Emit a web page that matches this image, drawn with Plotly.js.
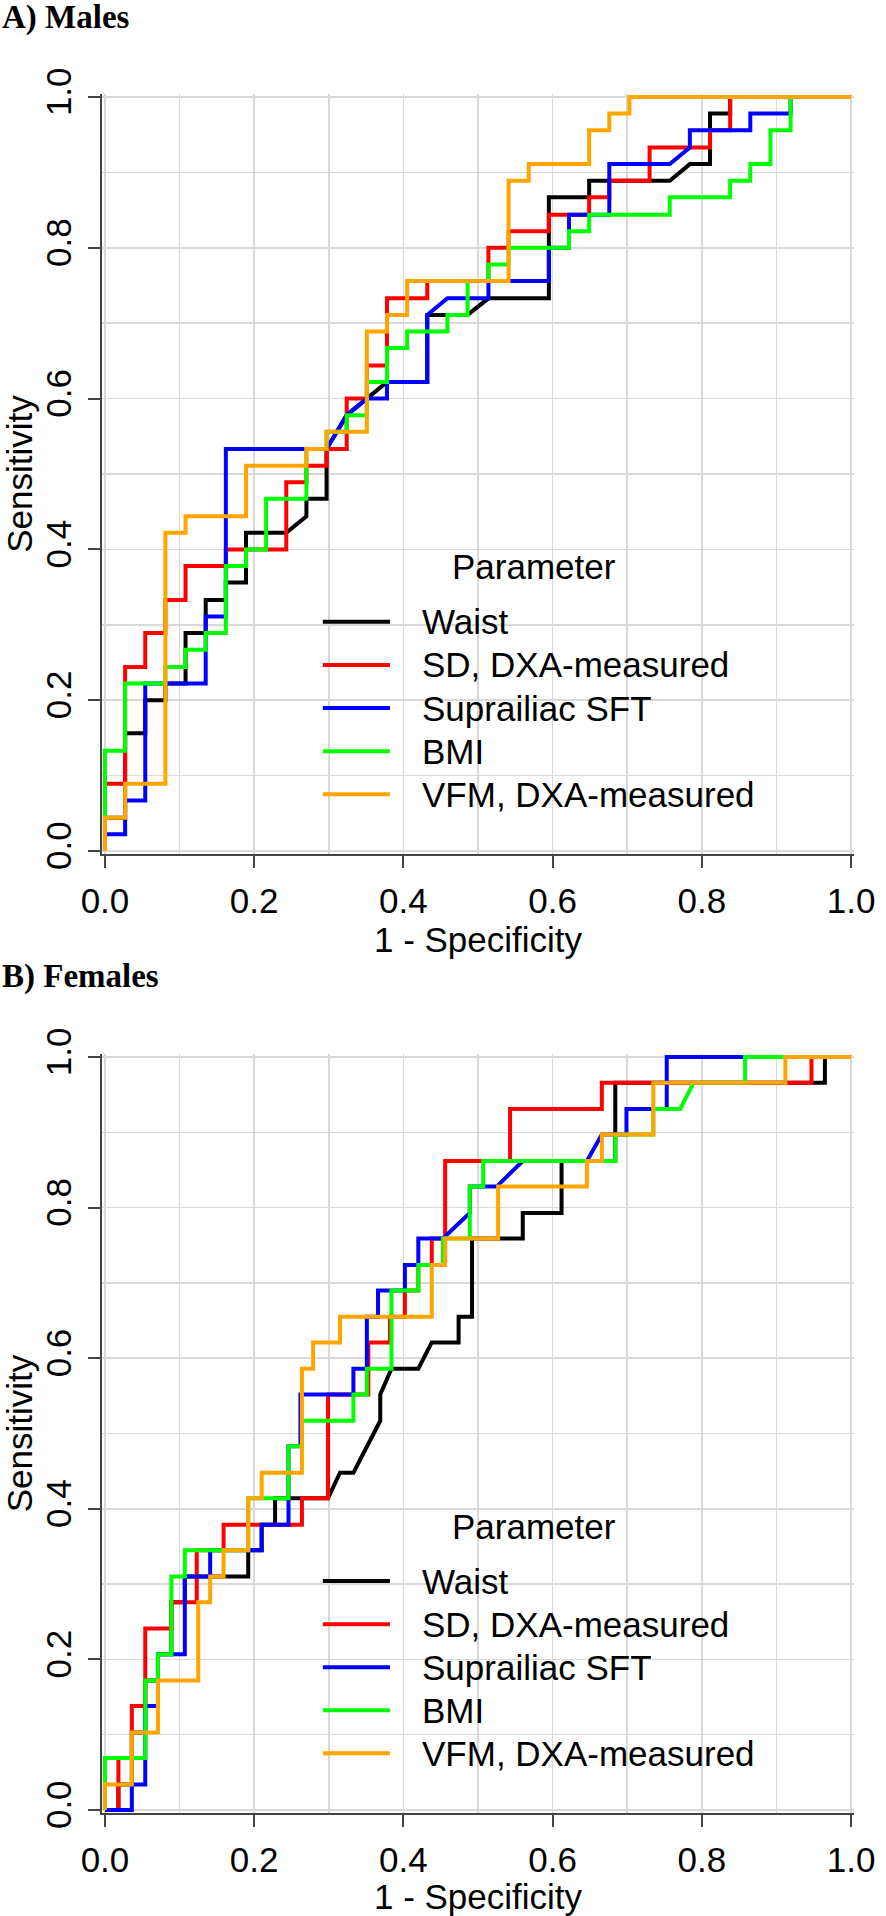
<!DOCTYPE html>
<html><head><meta charset="utf-8">
<script src="https://cdn.plot.ly/plotly-3.0.1.min.js"></script>
<style>html,body{margin:0;padding:0;background:#fff}</style>
</head><body><div id="chart" style="width:886px;height:1916px"></div>
<script>
const seriesNames = ["Waist", "SD, DXA-measured", "Suprailiac SFT", "BMI", "VFM, DXA-measured"];
const seriesColors = ["#000000", "#ff0000", "#0000ff", "#00ff00", "#ffa500"];
const tickValues = [0, 0.2, 0.4, 0.6, 0.8, 1.0];
const tickLabels = ["0.0", "0.2", "0.4", "0.6", "0.8", "1.0"];
const legendTitle = "Parameter";

// ---- A) Males : ROC curves (x = 1 - specificity, y = sensitivity) ----
const malesWaistX = [0,0,.027,.027,.054,.054,.081,.081,.108,.108,.135,.135,.162,.162,.189,.189,.243,.270,.270,.297,.297,.324,.351,.378,.432,.432,.486,.514,.595,.595,.649,.649,.757,.784,.811,.811,.838,.838,1];
const malesWaistY = [0,.044,.044,.156,.156,.2,.2,.222,.222,.289,.289,.333,.333,.356,.356,.422,.422,.444,.467,.467,.533,.578,.6,.622,.622,.711,.711,.733,.733,.867,.867,.889,.889,.911,.911,.978,.978,1,1];
const malesSdX = [0,0,.027,.027,.054,.054,.081,.081,.108,.108,.162,.162,.243,.243,.270,.270,.297,.297,.324,.324,.351,.351,.378,.378,.432,.432,.514,.514,.541,.541,.595,.595,.649,.649,.676,.676,.730,.730,.811,.811,.838,.838,1];
const malesSdY = [0,.089,.089,.244,.244,.289,.289,.333,.333,.378,.378,.4,.4,.489,.489,.511,.511,.533,.533,.6,.6,.644,.644,.733,.733,.756,.756,.8,.8,.822,.822,.844,.844,.867,.867,.889,.889,.933,.933,.956,.956,1,1];
const malesSftX = [0,0,.027,.027,.054,.054,.135,.135,.162,.162,.297,.324,.351,.378,.378,.432,.432,.459,.514,.514,.595,.595,.622,.622,.676,.676,.757,.784,.784,.865,.865,.919,.919,1];
const malesSftY = [0,.022,.022,.067,.067,.222,.222,.311,.311,.533,.533,.578,.6,.6,.622,.622,.711,.733,.733,.756,.756,.8,.8,.844,.844,.911,.911,.933,.956,.956,.978,.978,1,1];
const malesBmiX = [0,0,.027,.027,.081,.081,.108,.108,.135,.135,.162,.162,.189,.189,.216,.216,.270,.270,.297,.297,.324,.324,.351,.351,.378,.378,.405,.405,.459,.459,.486,.486,.514,.514,.541,.541,.622,.622,.649,.649,.757,.757,.838,.838,.865,.865,.892,.892,.919,.919,1];
const malesBmiY = [0,.133,.133,.222,.222,.244,.244,.267,.267,.289,.289,.378,.378,.4,.4,.467,.467,.533,.533,.556,.556,.578,.578,.622,.622,.667,.667,.689,.689,.711,.711,.756,.756,.778,.778,.8,.8,.822,.822,.844,.844,.867,.867,.889,.889,.911,.911,.956,.956,1,1];
const malesVfmX = [0,0,.027,.027,.081,.081,.108,.108,.189,.189,.270,.270,.297,.297,.351,.351,.378,.378,.405,.405,.541,.541,.568,.568,.649,.649,.676,.676,.703,.703,1];
const malesVfmY = [0,.044,.044,.089,.089,.422,.422,.444,.444,.511,.511,.533,.533,.556,.556,.689,.689,.711,.711,.756,.756,.889,.889,.911,.911,.956,.956,.978,.978,1,1];

// ---- B) Females ----
const femalesWaistX = [0,.018,.018,.036,.036,.054,.054,.071,.071,.089,.089,.107,.107,.192,.192,.21,.21,.228,.228,.299,.315,.333,.369,.369,.384,.42,.438,.474,.474,.492,.492,.56,.56,.612,.612,.684,.684,.965,.965,1];
const femalesWaistY = [0,0,.034,.034,.103,.103,.172,.172,.207,.207,.276,.276,.31,.31,.345,.345,.379,.379,.414,.414,.448,.448,.517,.552,.586,.586,.621,.621,.655,.655,.759,.759,.793,.793,.862,.862,.966,.966,1,1];
const femalesSdX = [0,.018,.018,.036,.036,.054,.054,.089,.089,.123,.123,.159,.159,.264,.264,.299,.299,.353,.353,.382,.382,.402,.402,.42,.42,.438,.438,.456,.456,.543,.543,.666,.666,.947,.947,1];
const femalesSdY = [0,0,.069,.069,.138,.138,.241,.241,.276,.276,.345,.345,.379,.379,.414,.414,.552,.552,.621,.621,.655,.655,.69,.69,.724,.724,.759,.759,.862,.862,.931,.931,.966,.966,1,1];
const femalesSftX = [0,.036,.036,.054,.054,.071,.071,.107,.107,.141,.141,.21,.21,.246,.246,.262,.262,.333,.333,.351,.351,.366,.366,.402,.402,.42,.42,.453,.489,.489,.525,.56,.646,.666,.699,.699,.753,.753,1];
const femalesSftY = [0,0,.034,.034,.138,.138,.207,.207,.31,.31,.345,.345,.379,.379,.483,.483,.552,.552,.586,.586,.655,.655,.69,.69,.724,.724,.759,.759,.793,.828,.828,.862,.862,.897,.897,.931,.931,1,1];
const femalesBmiX = [0,0,.054,.054,.071,.071,.089,.089,.107,.107,.192,.192,.246,.246,.264,.264,.333,.333,.351,.351,.384,.384,.42,.42,.453,.453,.489,.489,.507,.507,.684,.684,.735,.735,.771,.789,.858,.858,1];
const femalesBmiY = [0,.069,.069,.172,.172,.207,.207,.31,.31,.345,.345,.414,.414,.483,.483,.517,.517,.552,.552,.586,.586,.69,.69,.724,.724,.759,.759,.828,.828,.862,.862,.897,.897,.931,.931,.966,.966,1,1];
const femalesVfmX = [0,0,.036,.036,.071,.071,.125,.125,.141,.141,.159,.159,.192,.192,.21,.21,.264,.264,.279,.279,.315,.315,.438,.438,.456,.456,.527,.527,.646,.646,.666,.666,.735,.735,.912,.912,1];
const femalesVfmY = [0,.034,.034,.103,.103,.172,.172,.276,.276,.31,.31,.345,.345,.414,.414,.448,.448,.586,.586,.621,.621,.655,.655,.724,.724,.759,.759,.828,.828,.862,.862,.897,.897,.966,.966,1,1];

const malesX = [malesWaistX, malesSdX, malesSftX, malesBmiX, malesVfmX];
const malesY = [malesWaistY, malesSdY, malesSftY, malesBmiY, malesVfmY];
const femalesX = [femalesWaistX, femalesSdX, femalesSftX, femalesBmiX, femalesVfmX];
const femalesY = [femalesWaistY, femalesSdY, femalesSftY, femalesBmiY, femalesVfmY];

const FONT = "Liberation Sans, Arial, Helvetica, sans-serif";
const SERIF = "Liberation Serif, Times New Roman, serif";
const TXT = 35;
const traces = [];
[["x", "y", malesX, malesY], ["x2", "y2", femalesX, femalesY]].forEach(([xa, ya, X, Y]) => {
  seriesNames.forEach((name, k) => {
    traces.push({x: X[k], y: Y[k], type: "scatter", mode: "lines", name: name, showlegend: false,
      line: {color: seriesColors[k], width: 4}, xaxis: xa, yaxis: ya});
  });
});

const pad = 0.004;
function axis(extra) {
  return Object.assign({
    range: [-pad, 1 + pad], tickvals: tickValues, ticktext: tickLabels,
    ticks: "outside", ticklen: 12, tickwidth: 2, tickcolor: "#444", ticklabelstandoff: 3,
    showline: true, linecolor: "#444", linewidth: 2, zeroline: false,
    showgrid: true, gridcolor: "#d9d9d9", gridwidth: 1.5,
    minor: {tickvals: [0.1, 0.3, 0.5, 0.7, 0.9], showgrid: true, gridcolor: "#d9d9d9", gridwidth: 1.5, ticks: ""},
    tickfont: {family: FONT, size: TXT, color: "#000"}, layer: "below traces", fixedrange: true
  }, extra);
}

// legend drawn inside each panel (keys + labels), positioned in axis fractions
const shapes = [], annotations = [];
function addLegend(xa, ya) {
  annotations.push({text: legendTitle, xref: xa, yref: ya, x: 0.575, y: 0.377, xanchor: "center", yanchor: "middle",
    showarrow: false, font: {family: FONT, size: TXT, color: "#000"}});
  seriesNames.forEach((name, k) => {
    const yk = 0.304 - 0.0572 * k;
    shapes.push({type: "line", xref: xa, yref: ya, x0: 0.292, x1: 0.382, y0: yk, y1: yk,
      line: {color: seriesColors[k], width: 4}});
    annotations.push({text: name, xref: xa, yref: ya, x: 0.422, y: yk, xanchor: "left", yanchor: "middle",
      showarrow: false, font: {family: FONT, size: TXT, color: "#000"}});
  });
}
addLegend("x", "y");
addLegend("x2", "y2");
annotations.push(
  {text: "<b>A) Males</b>", xref: "paper", yref: "paper", x: -0.135, y: 1.0445, xanchor: "left", yanchor: "middle",
   showarrow: false, font: {family: SERIF, size: 33, color: "#000"}},
  {text: "<b>B) Females</b>", xref: "paper", yref: "paper", x: -0.135, y: 0.4865, xanchor: "left", yanchor: "middle",
   showarrow: false, font: {family: SERIF, size: 33, color: "#000"}}
);

const layout = {
  width: 886, height: 1916, paper_bgcolor: "#fff", plot_bgcolor: "#fff",
  margin: {l: 102, r: 32, t: 94, b: 103}, showlegend: false,
  font: {family: FONT, color: "#000"},
  xaxis: axis({anchor: "y", title: {text: "1 - Specificity", font: {family: FONT, size: TXT}, standoff: 4}}),
  yaxis: axis({anchor: "x", domain: [0.5579, 1], tickangle: -90,
    title: {text: "Sensitivity", font: {family: FONT, size: TXT}, standoff: 4}}),
  xaxis2: axis({anchor: "y2", title: {text: "1 - Specificity", font: {family: FONT, size: TXT}, standoff: 4}}),
  yaxis2: axis({anchor: "x2", domain: [0, 0.4415], tickangle: -90,
    title: {text: "Sensitivity", font: {family: FONT, size: TXT}, standoff: 4}}),
  shapes: shapes, annotations: annotations
};
Plotly.newPlot("chart", traces, layout, {displayModeBar: false, staticPlot: true});
</script></body></html>
